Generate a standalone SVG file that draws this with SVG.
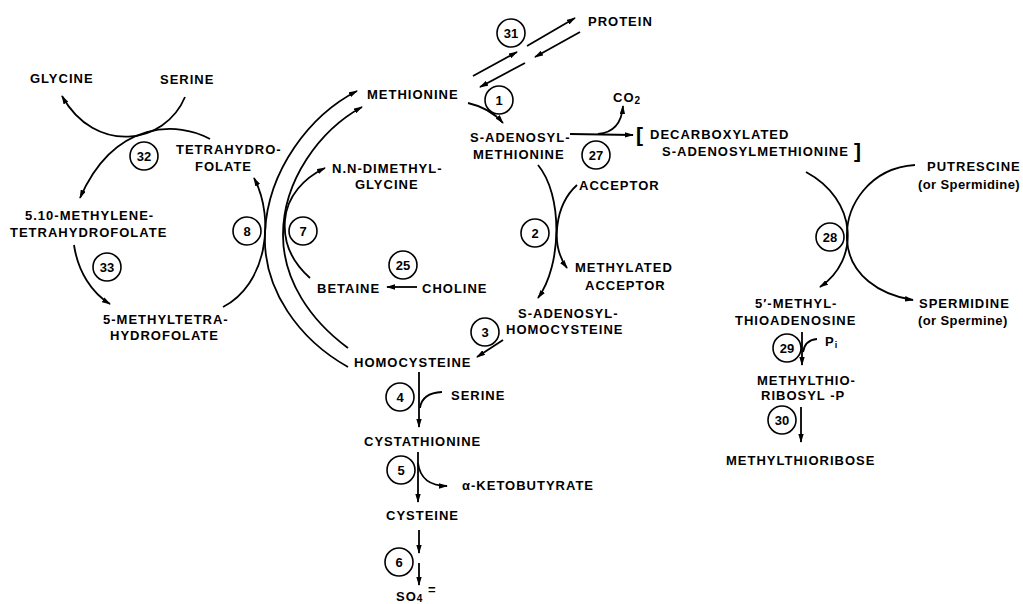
<svg xmlns="http://www.w3.org/2000/svg" width="1023" height="604" viewBox="0 0 1023 604">
<defs>
<style>
.t{font-family:"Liberation Sans",Arial,sans-serif;font-weight:bold;font-size:13px;letter-spacing:1px;fill:#000}
.s{letter-spacing:0.4px}
.n{font-family:"Liberation Sans",Arial,sans-serif;font-weight:bold;font-size:13px;text-anchor:middle;fill:#000}
.c{fill:#fff;stroke:#000;stroke-width:1.6}
.l{fill:none;stroke:#000;stroke-width:1.8}
.a{marker-end:url(#ah)}
.b{font-family:"Liberation Sans",Arial,sans-serif;font-weight:bold;font-size:21px;fill:#000}
</style>
<marker id="ah" viewBox="0 0 10 6" refX="9" refY="3" markerWidth="9" markerHeight="5.5" markerUnits="userSpaceOnUse" orient="auto">
<path d="M0,0 L10,3 L0,6 z" fill="#000"/>
</marker>
</defs>
<rect width="1023" height="604" fill="#fff"/>

<g id="connectors">
<path class="l a" d="M185,97 C165,145 95,155 62,96"/>
<path class="l a" d="M210,139 C180,122 115,118 80,198"/>
<path class="l a" d="M74,245 C78,272 92,293 110,304"/>
<path class="l a" d="M223,307 C266,285 276,220 254,178"/>
<path class="l a" d="M348,367 C300,340 262,290 265,232 C268,170 310,115 357,91"/>
<path class="l a" d="M348,348 C310,320 283,280 283,235 C283,180 320,130 362,107"/>
<path class="l a" d="M310,278 C292,262 283,242 285,220 C287,196 304,178 325,168"/>
<path class="l a" d="M417,287 L387,287"/>
<path class="l a" d="M473,76 L517,52"/>
<path class="l a" d="M527,46 L575,18"/>
<path class="l a" d="M580,32 L535,57"/>
<path class="l a" d="M525,63 L480,87"/>
<path class="l a" d="M468,103 Q490,108 503,123"/>
<path class="l a" d="M570,134 L633,135"/>
<path class="l a" d="M598,134 Q621,132 623,106"/>
<path class="l a" d="M538,165 C563,195 562,265 538,298"/>
<path class="l a" d="M577,185 C555,205 550,245 567,268"/>
<path class="l a" d="M503,340 L477,357"/>
<path class="l a" d="M419,372 L419,427"/>
<path class="l" d="M442,392 Q422,393 420,408"/>
<path class="l a" d="M418,452 L418,502"/>
<path class="l a" d="M418,463 Q421,486 447,486"/>
<path class="l a" d="M419,530 L419,553"/>
<path class="l a" d="M419,563 L419,585"/>
<path class="l a" d="M806,172 C858,200 860,260 820,287"/>
<path class="l a" d="M915,165 C870,168 845,205 847,240 C849,275 880,295 913,300"/>
<path class="l a" d="M802,332 L802,365"/>
<path class="l" d="M817,339 Q805,340 803,352"/>
<path class="l a" d="M801,407 L801,442"/>
</g>

<g id="protein"><text class="t" x="588" y="26">PROTEIN</text></g>
<g id="glycine"><text class="t" x="30" y="83">GLYCINE</text></g>
<g id="serine-top"><text class="t" x="160" y="84">SERINE</text></g>
<g id="methionine"><text class="t" x="367" y="99">METHIONINE</text></g>
<g id="sam"><text class="t" x="470" y="142">S-ADENOSYL-</text><text class="t" x="473" y="159">METHIONINE</text></g>
<g id="co2"><text class="t" x="613" y="102">CO<tspan font-size="10" dy="2">2</tspan></text></g>
<g id="dcsam">
<text class="b" x="636" y="142">[</text>
<text class="t" x="650" y="139">DECARBOXYLATED</text>
<text class="t" x="662" y="156">S-ADENOSYLMETHIONINE</text>
<text class="b" x="854" y="158">]</text>
</g>
<g id="thf"><text class="t" x="176" y="154">TETRAHYDRO-</text><text class="t" x="195" y="171">FOLATE</text></g>
<g id="dmg"><text class="t" x="332" y="173">N.N-DIMETHYL-</text><text class="t" x="355" y="189">GLYCINE</text></g>
<g id="acceptor"><text class="t" x="579" y="190">ACCEPTOR</text></g>
<g id="ch2thf"><text class="t" x="25" y="220">5.10-METHYLENE-</text><text class="t" x="10" y="237">TETRAHYDROFOLATE</text></g>
<g id="putrescine"><text class="t" x="927" y="171">PUTRESCINE</text><text class="t s" x="918" y="189">(or Spermidine)</text></g>
<g id="methylated-acceptor"><text class="t" x="575" y="272">METHYLATED</text><text class="t" x="585" y="290">ACCEPTOR</text></g>
<g id="betaine"><text class="t" x="317" y="293">BETAINE</text></g>
<g id="choline"><text class="t" x="422" y="293">CHOLINE</text></g>
<g id="sah"><text class="t" x="518" y="318">S-ADENOSYL-</text><text class="t" x="506" y="334">HOMOCYSTEINE</text></g>
<g id="methf"><text class="t" x="103" y="324">5-METHYLTETRA-</text><text class="t" x="110" y="340">HYDROFOLATE</text></g>
<g id="mta"><text class="t" x="755" y="308">5′-METHYL-</text><text class="t" x="735" y="325">THIOADENOSINE</text></g>
<g id="spermidine"><text class="t" x="919" y="308">SPERMIDINE</text><text class="t s" x="918" y="325">(or Spermine)</text></g>
<g id="pi"><text class="t" x="825" y="346">P<tspan font-size="9" dy="2">i</tspan></text></g>
<g id="homocysteine"><text class="t" x="354" y="367">HOMOCYSTEINE</text></g>
<g id="serine"><text class="t" x="451" y="400">SERINE</text></g>
<g id="mtrp"><text class="t" x="757" y="385">METHYLTHIO-</text><text class="t" x="761" y="400">RIBOSYL -P</text></g>
<g id="cystathionine"><text class="t" x="364" y="446">CYSTATHIONINE</text></g>
<g id="mtr"><text class="t" x="726" y="465">METHYLTHIORIBOSE</text></g>
<g id="ketobutyrate"><text class="t" x="462" y="490">α-KETOBUTYRATE</text></g>
<g id="cysteine"><text class="t" x="386" y="520">CYSTEINE</text></g>
<g id="sulfate"><text class="t" x="396" y="601">SO<tspan font-size="10" dy="1">4</tspan></text><text class="t" x="428" y="594" font-size="11">=</text></g>

<g id="e31"><circle class="c" cx="511" cy="33" r="14"/><text class="n" x="511" y="38">31</text></g>
<g id="e1"><circle class="c" cx="499" cy="100" r="14"/><text class="n" x="499" y="105">1</text></g>
<g id="e32"><circle class="c" cx="144" cy="156" r="14"/><text class="n" x="144" y="161">32</text></g>
<g id="e27"><circle class="c" cx="596" cy="155" r="14"/><text class="n" x="596" y="160">27</text></g>
<g id="e8"><circle class="c" cx="247" cy="231" r="14"/><text class="n" x="247" y="236">8</text></g>
<g id="e7"><circle class="c" cx="303" cy="231" r="14"/><text class="n" x="303" y="236">7</text></g>
<g id="e2"><circle class="c" cx="535" cy="233" r="14"/><text class="n" x="535" y="238">2</text></g>
<g id="e28"><circle class="c" cx="830" cy="237" r="14"/><text class="n" x="830" y="242">28</text></g>
<g id="e33"><circle class="c" cx="107" cy="267" r="14"/><text class="n" x="107" y="272">33</text></g>
<g id="e25"><circle class="c" cx="403" cy="265" r="14"/><text class="n" x="403" y="270">25</text></g>
<g id="e3"><circle class="c" cx="485" cy="332" r="14"/><text class="n" x="485" y="337">3</text></g>
<g id="e29"><circle class="c" cx="787" cy="348" r="14"/><text class="n" x="787" y="353">29</text></g>
<g id="e4"><circle class="c" cx="400" cy="397" r="14"/><text class="n" x="400" y="402">4</text></g>
<g id="e30"><circle class="c" cx="782" cy="420" r="14"/><text class="n" x="782" y="425">30</text></g>
<g id="e5"><circle class="c" cx="401" cy="470" r="14"/><text class="n" x="401" y="475">5</text></g>
<g id="e6"><circle class="c" cx="399" cy="562" r="14"/><text class="n" x="399" y="567">6</text></g>
</svg>
